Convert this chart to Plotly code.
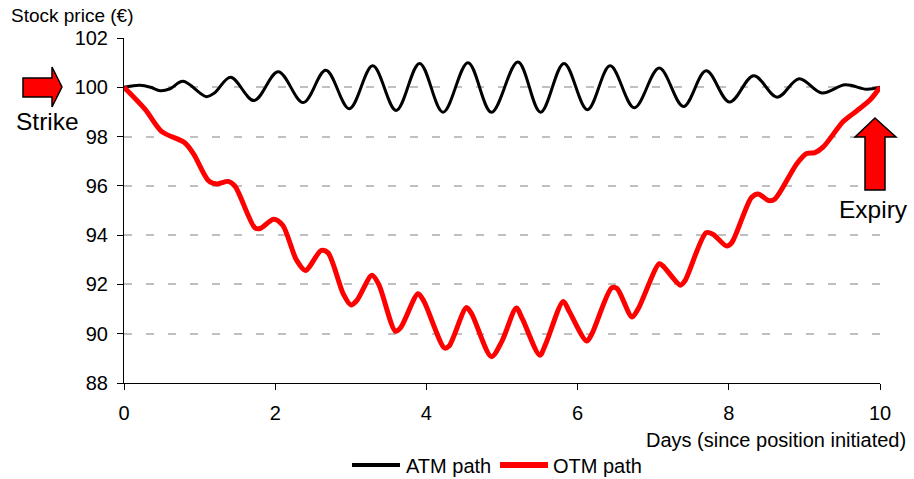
import plotly.graph_objects as go

# ---- data ----
atm_days = [0.00, 0.10, 0.21, 0.35, 0.48, 0.61, 0.78, 1.09, 1.20, 1.41, 1.72, 2.04, 2.37,
            2.67, 2.98, 3.29, 3.60, 3.91, 4.22, 4.55, 4.86, 5.21, 5.51, 5.82, 6.13, 6.43,
            6.75, 7.08, 7.40, 7.70, 8.01, 8.33, 8.64, 8.93, 9.23, 9.54, 9.82, 10.00]
atm_price = [100.00, 100.05, 100.08, 100.00, 99.86, 99.94, 100.24, 99.62, 99.78, 100.41, 99.46,
             100.63, 99.38, 100.69, 99.13, 100.87, 99.06, 100.97, 98.99, 101.00, 98.99,
             101.03, 98.99, 100.97, 99.09, 100.87, 99.17, 100.78, 99.22, 100.67, 99.40,
             100.47, 99.60, 100.35, 99.77, 100.10, 99.92, 100.00]

otm_days = [0.00, 0.28, 0.50, 0.80, 0.92, 1.12, 1.23, 1.38, 1.47, 1.73, 1.80, 1.98, 2.10,
            2.28, 2.40, 2.61, 2.70, 2.90, 3.00, 3.08, 3.28, 3.37, 3.59, 3.66, 3.89, 3.97,
            4.24, 4.30, 4.53, 4.60, 4.86, 5.00, 5.19, 5.27, 5.50, 5.58, 5.81, 5.89, 6.12,
            6.19, 6.45, 6.52, 6.72, 6.80, 7.08, 7.13, 7.36, 7.42, 7.70, 7.79, 7.97, 8.04,
            8.30, 8.39, 8.53, 8.61, 8.90, 9.03, 9.14, 9.25, 9.51, 9.65, 9.87, 10.00]
otm_price = [100.00, 99.10, 98.20, 97.76, 97.30, 96.20, 96.08, 96.18, 95.98, 94.30, 94.27,
             94.65, 94.40, 93.00, 92.57, 93.38, 93.28, 91.62, 91.17, 91.35, 92.37, 92.00,
             90.10, 90.25, 91.62, 91.30, 89.42, 89.50, 91.06, 90.80, 89.07, 89.70, 91.04,
             90.60, 89.13, 89.60, 91.31, 90.90, 89.70, 90.00, 91.86, 91.84, 90.68, 91.00,
             92.84, 92.75, 91.97, 92.15, 94.10, 94.04, 93.56, 93.70, 95.53, 95.67, 95.40,
             95.47, 96.90, 97.31, 97.35, 97.58, 98.60, 98.94, 99.49, 100.00]

x_ticks = [0, 2, 4, 6, 8, 10]
y_ticks = [88, 90, 92, 94, 96, 98, 100, 102]
series_names = ["ATM path", "OTM path"]
series_colors = ["black", "#ff0000"]
series_widths = [3, 5]

W, H = 914, 479
L, R, T, B = 124, 34, 38, 96
PW, PH = W - L - R, H - T - B


def px(x):
    return (x - L) / PW


def py(y):
    return (H - B - y) / PH


fig = go.Figure()
fig.add_trace(go.Scatter(x=atm_days, y=atm_price, mode="lines", name=series_names[0],
                         line=dict(color=series_colors[0], width=series_widths[0],
                                   shape="spline", smoothing=1)))
fig.add_trace(go.Scatter(x=otm_days, y=otm_price, mode="lines", name=series_names[1],
                         line=dict(color=series_colors[1], width=series_widths[1],
                                   shape="spline", smoothing=0.8)))

font = "Liberation Sans, Arial, sans-serif"
FS = 20

fig.update_layout(
    width=W, height=H,
    margin=dict(l=L, r=R, t=T, b=B, autoexpand=False),
    paper_bgcolor="white", plot_bgcolor="white",
    font=dict(family=font, size=FS, color="black"),
    showlegend=False,
    xaxis=dict(range=[0, 10], tickvals=x_ticks, ticks="outside", ticklen=6,
               tickcolor="black", showline=True, linecolor="black", linewidth=1,
               showgrid=False, zeroline=False, tickfont=dict(size=FS),
               ticklabelstandoff=6),
    yaxis=dict(range=[88, 102], tickvals=y_ticks, ticks="outside", ticklen=6,
               tickcolor="black", showline=True, linecolor="black", linewidth=1,
               showgrid=True, gridcolor="#c0c0c0", gridwidth=2, griddash="8px,14px",
               zeroline=False, tickfont=dict(size=FS), ticklabelstandoff=5),
)

# axis titles
fig.add_annotation(text="Stock price (€)", xref="paper", yref="paper", x=px(9), y=py(15),
                   xanchor="left", yanchor="middle", showarrow=False, font=dict(size=19))
fig.add_annotation(text="Days (since position initiated)", xref="paper", yref="paper",
                   x=px(908), y=py(440), xanchor="right", yanchor="middle", showarrow=False,
                   font=dict(size=FS))

# legend (drawn manually for exact swatch lengths)
leg_items = [(352, 400, 404), (500, 548, 551)]
for (x0, x1, xt), name, col, w in zip(leg_items, series_names, series_colors, series_widths):
    fig.add_shape(type="line", xref="paper", yref="paper", x0=px(x0), x1=px(x1),
                  y0=py(465), y1=py(465), line=dict(color=col, width=w + 1))
    fig.add_annotation(text=name, xref="paper", yref="paper", x=px(xt), y=py(466),
                       xanchor="left", yanchor="middle", showarrow=False,
                       font=dict(size=FS))

# Strike arrow (right-pointing)
s_pts = [(23, 78), (52, 78), (52, 67), (62, 87), (52, 107), (52, 97), (23, 97)]
path = "M" + " L".join(f"{px(a):.5f},{py(b):.5f}" for a, b in s_pts) + " Z"
fig.add_shape(type="path", path=path, xref="paper", yref="paper",
              fillcolor="#ff0000", line=dict(color="black", width=1.5))
fig.add_annotation(text="Strike", xref="paper", yref="paper", x=px(47), y=py(121),
                   xanchor="center", yanchor="middle", showarrow=False, font=dict(size=24.5))

# Expiry arrow (up-pointing)
e_pts = [(875, 118), (896, 137), (885, 137), (885, 190), (865, 190), (865, 137), (855, 137)]
path = "M" + " L".join(f"{px(a):.5f},{py(b):.5f}" for a, b in e_pts) + " Z"
fig.add_shape(type="path", path=path, xref="paper", yref="paper",
              fillcolor="#ff0000", line=dict(color="black", width=1.5))
fig.add_annotation(text="Expiry", xref="paper", yref="paper", x=px(873), y=py(209),
                   xanchor="center", yanchor="middle", showarrow=False, font=dict(size=24.5))

fig.write_html("out.html", config={"displayModeBar": False},
               post_script="document.body.style.margin='0px';document.body.style.padding='0px';")
